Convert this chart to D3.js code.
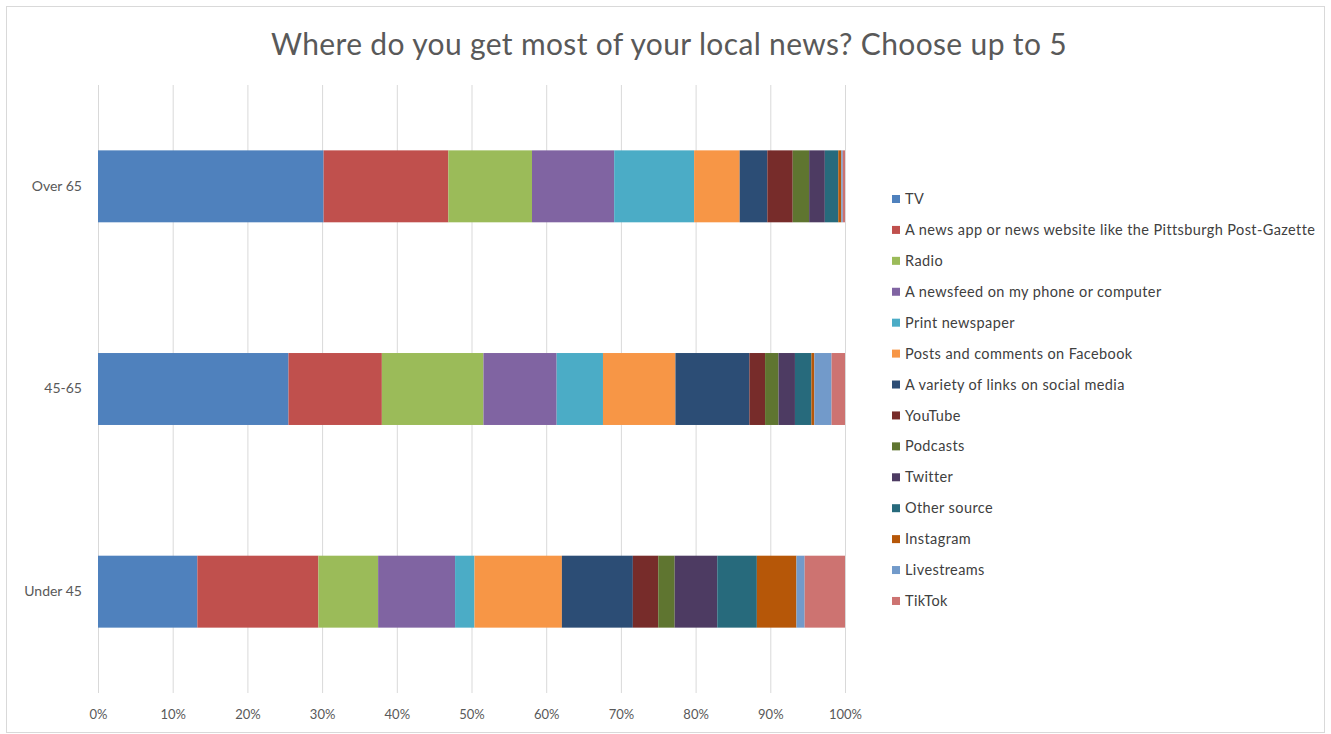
<!DOCTYPE html>
<html>
<head>
<meta charset="utf-8">
<script src="https://cdn.jsdelivr.net/npm/d3@7"></script>
<style>
  html, body { margin: 0; padding: 0; background: #fff; }
  svg { display: block; }
  text { font-family: Lato, "Open Sans", sans-serif; }
</style>
</head>
<body>
<svg id="chart" width="1331" height="734"></svg>
<script>
// Age groups shown as rows, top to bottom
const ageGroups = ["Over 65", "45-65", "Under 45"];

// News sources, in stacking / legend order
const sources = [
  "TV",
  "A news app or news website like the Pittsburgh Post-Gazette",
  "Radio",
  "A newsfeed on my phone or computer",
  "Print newspaper",
  "Posts and comments on Facebook",
  "A variety of links on social media",
  "YouTube",
  "Podcasts",
  "Twitter",
  "Other source",
  "Instagram",
  "Livestreams",
  "TikTok"
];

// Share of responses (%) per source, one array per age group
const over65   = [30.2, 16.7, 11.2, 11.0, 10.7, 6.1, 3.7, 3.4, 2.2, 2.1, 1.8, 0.4, 0.2, 0.3];
const age45to65 = [25.5, 12.5, 13.6, 9.8, 6.2, 9.7, 9.9, 2.1, 1.8, 2.2, 2.2, 0.4, 2.3, 1.8];
const under45  = [13.3, 16.2, 8.0, 10.3, 2.6, 11.7, 9.5, 3.4, 2.2, 5.7, 5.3, 5.3, 1.1, 5.4];

const tickValues = [0, 0.1, 0.2, 0.3, 0.4, 0.5, 0.6, 0.7, 0.8, 0.9, 1.0];

const colors = [
  "#4F81BD", "#C0504D", "#9BBB59", "#8064A2", "#4BACC6", "#F79646", "#2C4D75",
  "#772C2A", "#5F7530", "#4D3B62", "#276A7C", "#B65708", "#729ACA", "#CD7371"
];

const groupValues = [over65, age45to65, under45];
const rows = ageGroups.map((g, i) => {
  const row = { group: g };
  sources.forEach((s, j) => { row[s] = groupValues[i][j] / 100; });
  return row;
});

const svg = d3.select("#chart");

// Chart frame
svg.append("rect")
  .attr("x", 6.5).attr("y", 6.5)
  .attr("width", 1318).attr("height", 726)
  .attr("fill", "#fff").attr("stroke", "#d9d9d9").attr("stroke-width", 1);

// Title
svg.append("text")
  .attr("x", 669).attr("y", 55)
  .attr("text-anchor", "middle")
  .attr("fill", "#595959")
  .style("font-size", "30px")
  .style("letter-spacing", "0.35px")
  .text("Where do you get most of your local news? Choose up to 5");

const plot = { left: 98, right: 845, top: 85, bottom: 693 };

const x = d3.scaleLinear().domain([0, 1]).range([plot.left, plot.right]);
const y = d3.scaleBand().domain(ageGroups)
  .range([plot.top, plot.bottom])
  .paddingInner(0.645).paddingOuter(0.3225);
const color = d3.scaleOrdinal().domain(sources).range(colors);

// Vertical gridlines
const grid = svg.append("g")
  .attr("transform", `translate(0,${plot.bottom})`)
  .call(d3.axisBottom(x).tickValues(tickValues)
    .tickSize(-(plot.bottom - plot.top)).tickFormat(""));
grid.select(".domain").remove();
grid.selectAll("line").attr("stroke", "#d9d9d9").attr("stroke-width", 1);

// Stacked bars
const stacked = d3.stack().keys(sources)(rows);
svg.append("g").selectAll("g")
  .data(stacked)
  .join("g")
  .attr("fill", d => color(d.key))
  .selectAll("rect")
  .data(d => d)
  .join("rect")
  .attr("x", d => x(d[0]))
  .attr("width", d => x(d[1]) - x(d[0]))
  .attr("y", d => y(d.data.group))
  .attr("height", y.bandwidth());

// X axis labels
const xAxis = svg.append("g")
  .attr("transform", `translate(0,${plot.bottom})`)
  .call(d3.axisBottom(x).tickValues(tickValues).tickSize(0).tickPadding(17)
    .tickFormat(d3.format(".0%")));
xAxis.select(".domain").remove();
xAxis.selectAll("text")
  .attr("fill", "#595959")
  .style("font-size", "13px")
  .style("font-family", "Lato, sans-serif");

// Y axis labels
const yAxis = svg.append("g")
  .attr("transform", `translate(${plot.left},0)`)
  .call(d3.axisLeft(y).tickSize(0).tickPadding(16));
yAxis.select(".domain").remove();
yAxis.selectAll("text")
  .attr("fill", "#595959")
  .style("font-size", "14px")
  .style("font-family", "Lato, sans-serif");

// Legend
const legend = svg.append("g").attr("transform", "translate(892,199)");
const items = legend.selectAll("g")
  .data(sources)
  .join("g")
  .attr("transform", (d, i) => `translate(0,${i * 30.92})`);
items.append("rect")
  .attr("x", 0).attr("y", -4)
  .attr("width", 8).attr("height", 8)
  .attr("fill", d => color(d));
items.append("text")
  .attr("x", 13).attr("y", 0)
  .attr("dy", "0.35em")
  .attr("fill", "#404040")
  .style("font-size", "14.5px")
  .style("letter-spacing", "0.4px")
  .text(d => d);
</script>
</body>
</html>
